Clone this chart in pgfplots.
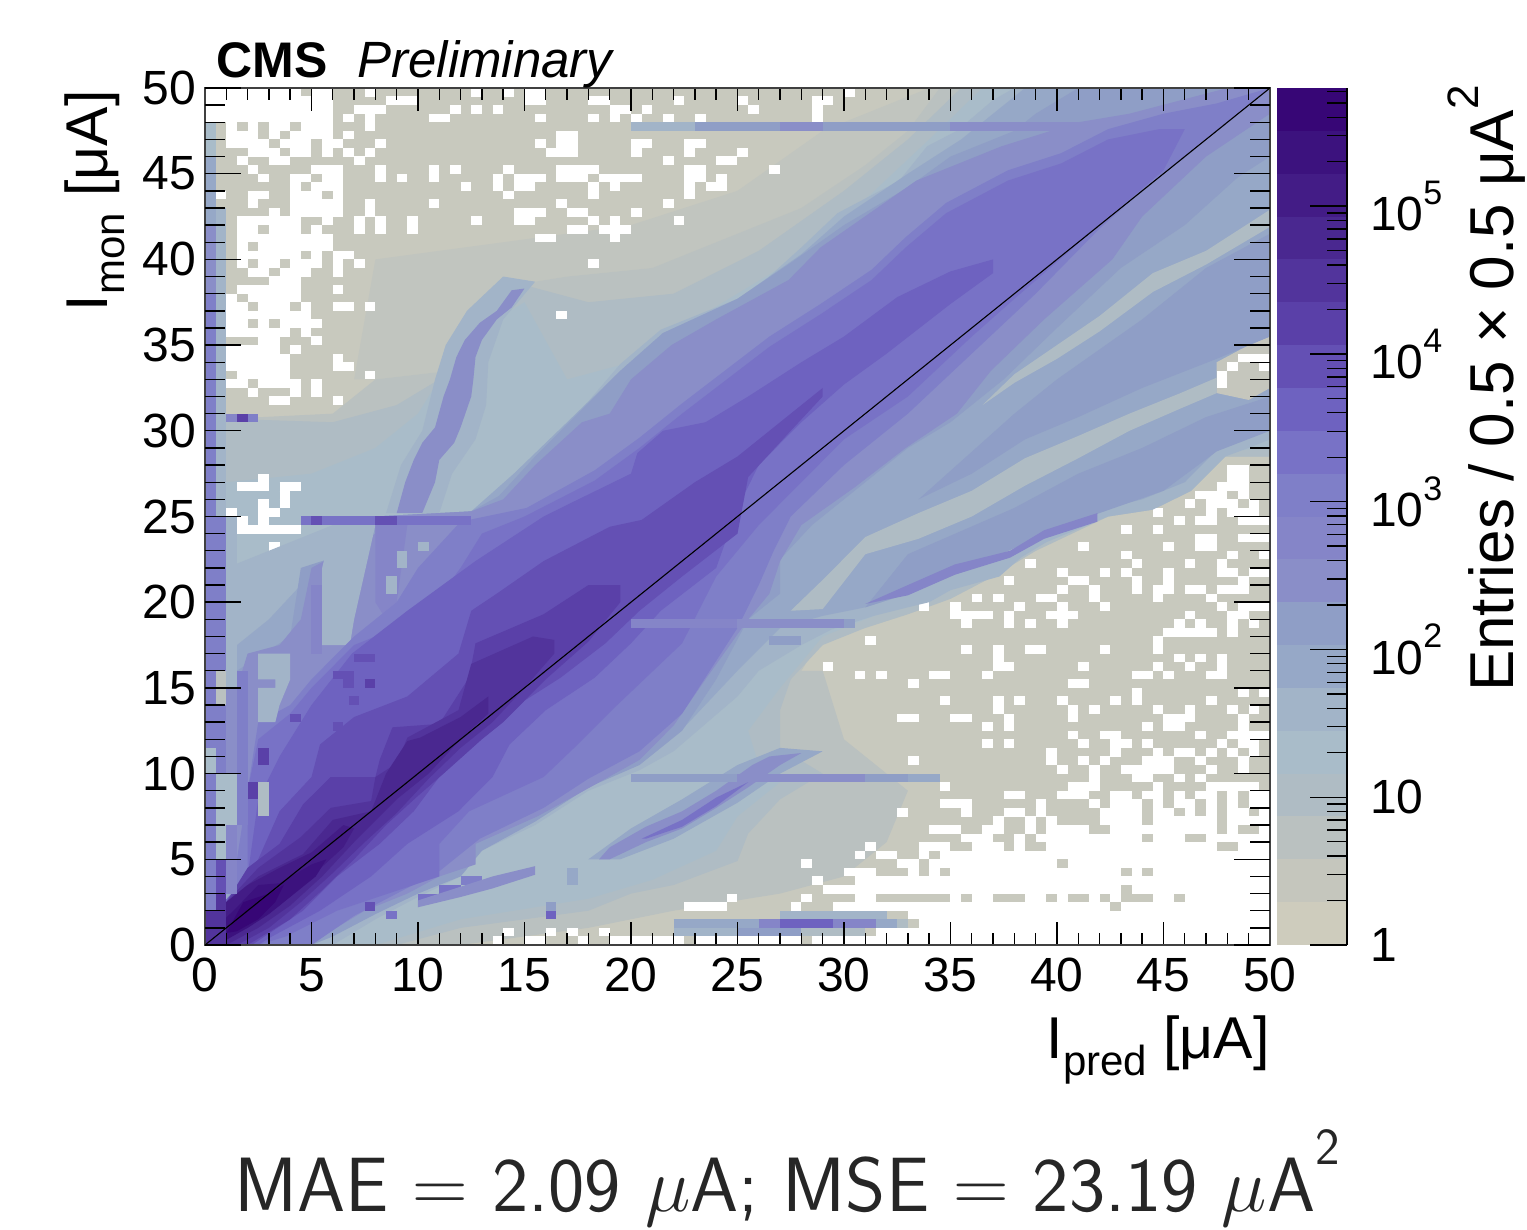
\RequirePackage{fix-cm}
\documentclass[border=0pt]{standalone}
\usepackage{fontspec}
\setmainfont{Liberation Sans}
\usepackage{pgfplots}
\pgfplotsset{compat=1.18}
\definecolor{Cb}{HTML}{C8C9BE}\definecolor{Cg}{HTML}{C1C5BF}
\definecolor{C0}{HTML}{CECCBD}\definecolor{C1}{HTML}{C5C6BD}\definecolor{C2}{HTML}{BAC1C0}\definecolor{C3}{HTML}{AFBCC4}
\definecolor{C4}{HTML}{A9BCC9}\definecolor{C5}{HTML}{A2B4C8}\definecolor{C6}{HTML}{96A8C7}\definecolor{C7}{HTML}{8F9EC6}
\definecolor{C8}{HTML}{8A8EC8}\definecolor{C9}{HTML}{8585C8}\definecolor{C10}{HTML}{7F7FC8}\definecolor{C11}{HTML}{7872C6}
\definecolor{C12}{HTML}{6E62C0}\definecolor{C13}{HTML}{6450B4}\definecolor{C14}{HTML}{5A40A8}\definecolor{C15}{HTML}{52349C}
\definecolor{C16}{HTML}{4A2890}\definecolor{C17}{HTML}{431C86}\definecolor{C18}{HTML}{3C127E}\definecolor{C19}{HTML}{370676}
\pgfplotsset{
 poly/.style={fill=#1,draw=none,forget plot},
 hr/.style={quiver={u=\thisrowno{2},v=0},draw=#1,line width=4.35pt,line cap=butt,no markers,forget plot},
 vr/.style={quiver={u=0,v=\thisrowno{2}},draw=#1,line width=5.4pt,line cap=butt,no markers,forget plot},
}
\newcommand{\tk}{\fontsize{24}{24}\selectfont}
\newcommand{\lb}{\fontsize{31}{31}\selectfont}
\newcommand{\lc}{\fontsize{29.5}{30}\selectfont}
\newcommand{\sub}[1]{\raisebox{-0.28em}{\fontsize{21}{21}\selectfont #1}}
\newcommand{\ee}[1]{\mbox{10\raisebox{0.55em}{\fontsize{17}{17}\selectfont #1}}}
\begin{document}
\begin{tikzpicture}
\path[use as bounding box] (-102.5pt,-142.5pt) rectangle ++(763.5pt,615pt);
\begin{axis}[scale only axis,width=532.5pt,height=428.5pt,xmin=0,xmax=50,ymin=0,ymax=50,
 axis on top,tick align=inside,axis line style={draw=black!75,line width=0.8pt},
 tick style={black,line width=0.7pt},major tick length=11.5pt,minor tick length=6pt,
 xtick={0,5,...,50},xticklabels={0,5,10,15,20,25,30,35,40,45,50},minor x tick num=4,
 ytick=\empty,xtick pos=both,
 xticklabel pos=bottom,x tick label style={font=\tk,yshift=-3pt,inner xsep=0pt}]
% background
\addplot[poly=Cb] coordinates {(0,0)(50,0)(50,50)(0,50)} -- cycle;
\addplot[poly=Cg] coordinates {(7,33)(8,40)(14,41)(20,42)(25,44)(29,47.5)(34,50)(35,50)(33,47.5)(31,45.5)(28,43)(24,41)(21,39.5)(17,39)(14.5,38.5)(13,36)(11.5,33.5)(8,33)} -- cycle;
\addplot[poly=C2] coordinates {(26,16)(29,16)(30,12)(33,9)(32,6)(30,4)(27,3)(22,2)(18,1)(12,0)(9,0)(20,5)} -- cycle;
% graded low-count region
\addplot[poly=C2] coordinates {(1,30.7)(6,31)(8,33)(11.5,33.5)(13,36)(14.5,38.5)(17,39)(21,39.5)(24,41)(28,43)(31,45.5)(33,47.5)(34.5,50)(50,50)(50,28.5)(47.9,28.5)(46.3,26.5)(44.5,25.4)(42.4,25)(39,23)(37,21.5)(35,20.2)(33,19.3)(31,18.5)(29,18)(28,16)(27.5,15.5)(27,13.7)(28.5,11.7)(31,10.2)(28,8.8)(26,6.9)(25.5,4.9)(22,3.5)(20,3)(18,2)(12,1)(9,0)(0,0)(0,30.7)} -- cycle;
\addplot[poly=C3] coordinates {(1,30.7)(6,30.5)(9,31.5)(11,33)(13,36)(15,38.5)(18,37.5)(22,38)(26,40.5)(30,44)(33,47)(35.5,50)(50,50)(50,28.5)(47.9,28.5)(46.3,26.5)(44.5,25.4)(42.4,25)(39,23)(37,21.5)(35,20.2)(33,19.3)(31,18.5)(29,17.5)(27.5,15.5)(27,13.7)(27,11.5)(29,10)(27,8.5)(25.5,6.5)(25,4.9)(22,3.5)(20,3)(18,2)(12,1)(9,0)(0,0)(0,30.7)} -- cycle;
\addplot[poly=C4] coordinates {(1,27)(5,27.5)(8,29)(10,31)(11,33)(13,36)(15,37.5)(17,33)(20,34)(23,36.5)(27,39.5)(31,43.5)(34,47)(36.5,50)(50,50)(50,29)(48,28.8)(46.3,27)(44.5,26)(42,25.2)(39,23.5)(37,22)(35,20.8)(33,20)(31,19)(29,18)(27,15)(25.5,12.5)(26,10.5)(27,9.5)(25,7.5)(24,5.5)(21,3.8)(18,2.7)(12,1.5)(8,0)(0,0)(0,27)} -- cycle;
% empty bins, as runs: x y length
\addplot[hr=white] table {
0 49.75 4.5
5 49.75 1
7.5 49.75 .5
12.5 49.75 .5
14 49.75 .5
15 49.75 1
30 49.75 .5
0 49.25 6
8.5 49.25 1.5
15 49.25 1
18 49.25 1
22 49.25 .5
25 49.25 .5
28.5 49.25 1
0 48.75 6
7 48.75 1.5
11.5 48.75 .5
12.5 48.75 .5
13.5 48.75 .5
19 48.75 1
20.5 48.75 .5
25.5 48.75 .5
28.5 48.75 .5
0 48.25 6
6.5 48.25 .5
7.5 48.25 .5
10.5 48.25 1
15.5 48.25 .5
18 48.25 .5
19 48.25 .5
20 48.25 .5
21.5 48.25 .5
23 48.25 .5
28.5 48.25 .5
1 47.75 .5
2 47.75 .5
3 47.75 1
4.5 47.75 1.5
7.5 47.75 .5
1 47.25 1.5
3 47.25 .5
4 47.25 2
6.5 47.25 .5
16.5 47.25 1
1 46.75 2
3.5 46.75 1.5
5.5 46.75 1
8 46.75 .5
15.5 46.75 .5
16.5 46.75 1
20 46.75 1
22.5 46.75 1
2 46.25 1.5
4 46.25 1
5.5 46.25 .5
6.5 46.25 .5
7.5 46.25 .5
16 46.25 1.5
20 46.25 .5
22.5 46.25 .5
25 46.25 .5
1.5 45.75 .5
3 45.75 1
7 45.75 .5
21.5 45.75 .5
24 45.75 1
2 45.25 .5
5 45.25 1.5
8 45.25 .5
10.5 45.25 .5
11.5 45.25 .5
14 45.25 .5
16.5 45.25 2
22.5 45.25 1
26.5 45.25 .5
2.5 44.75 .5
4 44.75 1
5.5 44.75 1
8 44.75 .5
9 44.75 .5
10.5 44.75 .5
13.5 44.75 .5
14.5 44.75 1.5
16.5 44.75 1.5
18.5 44.75 2
22.5 44.75 1
24 44.75 .5
4 44.25 .5
5 44.25 1.5
12 44.25 .5
13.5 44.25 .5
14.5 44.25 1
18 44.25 .5
19 44.25 .5
22.5 44.25 .5
23.5 44.25 1
.5 43.75 .5
2 43.75 1
4 43.75 1.5
6 43.75 .5
14 43.75 .5
18 43.75 .5
22.5 43.75 .5
2 43.25 .5
4 43.25 2.5
7.5 43.25 .5
10.5 43.25 .5
16.5 43.25 .5
21.5 43.25 .5
3 42.75 .5
4 42.75 2.5
7.5 42.75 .5
14.5 42.75 1.5
17 42.75 1
20 42.75 .5
1.5 42.25 3
5.5 42.25 .5
7 42.25 .5
8 42.25 .5
9.5 42.25 .5
12.5 42.25 .5
14.5 42.25 1
18 42.25 .5
19 42.25 .5
22 42.25 .5
1.5 41.75 1
3 41.75 1.5
5 41.75 .5
7 41.75 .5
8 41.75 .5
9.5 41.75 .5
17 41.75 1
18.5 41.75 1.5
1.5 41.25 4.5
15.5 41.25 1
19 41.25 .5
1.5 40.75 .5
2.5 40.75 3.5
1.5 40.25 3
5 40.25 .5
6 40.25 1
.5 39.75 .5
1.5 39.75 .5
2.5 39.75 1
4 39.75 1.5
6 39.75 .5
7 39.75 .5
18 39.75 .5
2 39.25 1
3.5 39.25 1.5
6 39.25 .5
3 38.75 1.5
.5 38.25 .5
1.5 38.25 3
6 38.25 .5
.5 37.75 1
2 37.75 2.5
.5 37.25 1.5
2.5 37.25 1.5
4.5 37.25 .5
6 37.25 1
7.5 37.25 .5
.5 36.75 4.5
16.5 36.75 .5
1 36.25 1
2.5 36.25 .5
3.5 36.25 2
1 35.75 3
4.5 35.75 .5
2.5 35.25 1
5 35.25 .5
1 34.75 2.5
4 34.75 .5
1 34.25 3
6 34.25 .5
1 33.75 3
6 33.75 1
1.5 33.25 2.5
7.5 33.25 .5
1 32.75 1
2.5 32.75 2
5 32.75 .5
2 32.25 .5
4 32.25 .5
5 32.25 .5
.5 31.75 .5
3 31.75 1
6 31.75 .5
2.5 27.25 .5
1.5 26.75 1.5
3.5 26.75 1
3.5 26.25 .5
2.5 25.75 .5
3.5 25.75 .5
1 25.25 .5
2.5 25.25 1
1 24.75 1
2.5 24.75 .5
1.5 24.25 3
3 23.25 .5
38 27.75 .5
38 27.25 .5
48 27.75 1
48 27.25 1
47.5 26.75 1.5
46.5 26.25 1.5
48.5 26.25 .5
46 25.75 .5
47 25.75 1.5
49 25.75 .5
44.5 25.25 .5
47 25.25 .5
48 25.25 1.5
45.5 24.75 .5
46.5 24.75 1
48.5 24.75 1.5
43 24.25 .5
44.5 24.25 .5
46.5 23.75 1
48.5 23.75 1.5
41 23.25 .5
45 23.25 .5
46.5 23.25 1
43 22.75 .5
48 22.75 .5
49.5 22.75 .5
38.5 22.25 .5
43.5 22.25 .5
46 22.25 .5
47.5 22.25 .5
40 21.75 .5
42 21.75 .5
43 21.75 .5
45 21.75 .5
47.5 21.75 1
49 21.75 1
37.5 21.25 .5
40.5 21.25 1
43.5 21.25 .5
45 21.25 .5
48.5 21.25 .5
40 20.75 .5
41.5 20.75 .5
43.5 20.75 .5
44.5 20.75 1
46 20.75 1
47.5 20.75 1.5
36 20.25 .5
37 20.25 .5
39 20.25 1
41.5 20.25 .5
44.5 20.25 .5
47 20.25 .5
33.5 19.75 .5
35 19.75 .5
38 19.75 .5
40 19.75 .5
42 19.75 .5
47.5 19.75 .5
48.5 19.75 1.5
35 19.25 2
37.5 19.25 .5
39.5 19.25 1.5
46 19.25 .5
48 19.25 1
35.5 18.75 .5
37.5 18.75 .5
38.5 18.75 .5
40 18.75 .5
45.5 18.75 .5
46.5 18.75 .5
48 18.75 .5
49 18.75 .5
45 18.25 2.5
48 18.25 .5
31 17.75 .5
44.5 17.75 .5
35.5 17.25 .5
37 17.25 .5
38.5 17.25 1
42 17.25 .5
44.5 17.25 .5
37 16.75 .5
45.5 16.75 .5
46.5 16.75 .5
47.5 16.75 .5
29 16.25 .5
37 16.25 1
41 16.25 .5
44.5 16.25 .5
46 16.25 .5
47.5 16.25 .5
30.5 15.75 .5
31.5 15.75 .5
34 15.75 1
36.5 15.75 .5
43.5 15.75 1
45 15.75 .5
47 15.75 1
33 15.25 .5
40.5 15.25 1
43.5 14.75 .5
48.5 14.75 .5
49.5 14.75 .5
34.5 14.25 .5
37 14.25 .5
38 14.25 .5
40 14.25 .5
42.5 14.25 .5
43.5 14.25 .5
47 14.25 .5
37 13.75 .5
40.5 13.75 .5
41.5 13.75 .5
44.5 13.75 .5
46 13.75 .5
48 13.75 .5
49 13.75 .5
32.5 13.25 1
35 13.25 1
37.5 13.25 .5
40.5 13.25 .5
45 13.25 1.5
48.5 13.25 .5
36.5 12.75 .5
37.5 12.75 .5
44 12.75 .5
45 12.75 1
48.5 12.75 .5
40.5 12.25 .5
42 12.25 1
46.5 12.25 .5
48 12.25 2
36.5 11.75 .5
37.5 11.75 .5
41 11.75 .5
42.5 11.75 1
44 11.75 .5
47.5 11.75 .5
48.5 11.75 1
39.5 11.25 .5
42.5 11.25 .5
44.5 11.25 .5
45.5 11.25 1
47 11.25 .5
48 11.25 .5
49 11.25 .5
33 10.75 .5
39.5 10.75 .5
41 10.75 .5
42 10.75 .5
44 10.75 1.5
46.5 10.75 .5
48.5 10.75 .5
40 10.25 .5
41.5 10.25 .5
43 10.25 2.5
47 10.25 .5
48.5 10.25 .5
41.5 9.75 .5
43.5 9.75 1
45.5 9.75 .5
46.5 9.75 .5
34.5 9.25 .5
40.5 9.25 1.5
44.5 9.25 .5
47 9.25 2.5
37.5 8.75 1
40 8.75 1.5
42.5 8.75 1
44 8.75 1
45.5 8.75 .5
46.5 8.75 1
48 8.75 .5
49 8.75 1
34.5 8.25 1.5
39 8.25 .5
41.5 8.25 .5
42.5 8.25 1.5
44.5 8.25 .5
45.5 8.25 1
47 8.25 .5
48 8.25 .5
49 8.25 1
32.5 7.75 .5
35.5 7.75 .5
37.5 7.75 1
39 7.75 .5
42 7.75 2
44.5 7.75 1
46 7.75 .5
47 7.75 .5
48 7.75 1
49.5 7.75 .5
37 7.25 .5
38.5 7.25 .5
39.5 7.25 .5
42 7.25 2
44.5 7.25 3
48 7.25 2
34 6.75 1.5
36.5 6.75 1
38.5 6.75 .5
39.5 6.75 2
42.5 6.75 5
48 6.75 .5
49.5 6.75 .5
35.5 6.25 1.5
38 6.25 .5
39 6.25 5
44.5 6.25 1.5
47 6.25 3
31 5.75 .5
33.5 5.75 1.5
36 5.75 1.5
38 5.75 .5
39.5 5.75 8
48.5 5.75 1.5
30.5 5.25 .5
31.5 5.25 1
33.5 5.25 .5
34.5 5.25 15.5
28 4.75 .5
32.5 4.75 1
34 4.75 6
40.5 4.75 9.5
30 4.25 1.5
33 4.25 .5
34 4.25 .5
35 4.25 8
43.5 4.25 .5
44.5 4.25 5.5
28.5 3.75 .5
30.5 3.75 19.5
29 3.25 14
43.5 3.25 6.5
24.5 2.75 .5
28 2.75 .5
30.5 2.75 1
35 2.75 .5
36 2.75 1
38.5 2.75 1
40 2.75 .5
41.5 2.75 .5
42.5 2.75 .5
44.5 2.75 1
46 2.75 4
22.5 2.25 2
27.5 2.25 .5
29.5 2.25 13
43 2.25 7
33 1.75 17
33.5 1.25 16.5
14 .75 .5
16 .75 .5
17 .75 .5
18.5 .75 .5
31.5 .75 18.5
13.5 .25 .5
15 .25 1
17.5 .25 .5
19 .25 3.5
23 .25 5
28.5 .25 21.5
};
% C5, arc and lower-left streak halos
\addplot[poly=C5] coordinates {(1,22)(4,23.5)(6,24.5)(12.5,25.3)(15.1,27)(17.5,31)(19.5,33.9)(21.4,35.9)(25.6,38)(28,40.7)(29.7,42.7)(32.6,44.6)(33.9,46.6)(35.3,47.5)(37,49.3)(38,50)(50,50)(50,29.5)(49,29)(47.9,28.5)(46.3,26.5)(44.5,25.4)(42.4,25)(39.5,23.5)(38.3,22.6)(37.3,21.5)(35,20.7)(34,20)(33,19.7)(31.4,19.2)(29.4,18.4)(28,17.5)(26,16)(25,14.5)(22,11.3)(20.4,10.2)(18,9)(15.5,7)(13,5.5)(12,4)(10,2.8)(8,1.5)(6,0)(0,0)(0,22)} -- cycle;
\addplot[poly=C5] coordinates {(8.5,25.2)(9.2,28)(10.2,30)(10.8,33)(11.3,35)(12.3,37)(14,39)(15.5,38.7)(14,36.5)(13.3,34)(13.2,31.5)(12.7,29.5)(11.6,27.5)(11,25.2)} -- cycle;
\addplot[poly=C8] coordinates {(9,25.2)(9.4,27)(9.8,28.3)(10.2,29.3)(10.8,30.2)(11.2,32)(11.5,33)(11.8,34.3)(12.2,35.3)(12.9,36.3)(13.7,37)(14.4,38.2)(15,38.3)(14.4,37.2)(13.7,36.5)(13,35.3)(12.7,34.3)(12.6,33)(12.5,32)(12,30.2)(11.7,29.3)(11,28.3)(10.8,27)(10.2,25.2)} -- cycle;
\addplot[poly=C6] coordinates {(1,17)(3,19)(4.5,21)(7,23)(8,25)(12.5,25.3)(14.5,27.5)(17,30.5)(19.5,33.5)(21.5,35.7)(25,37.7)(28,40.3)(30,42.5)(33,45)(35.5,47)(37,48.5)(38.5,50)(50,50)(50,30.5)(48,29.5)(46,27)(44,26)(42,25.4)(39,24)(37,22.5)(35,21.5)(33,20.5)(31,19.7)(29,19.2)(27,18.5)(25,16)(22.5,12.7)(20.5,10.8)(18,9.8)(15.5,8)(13,6)(12,4.5)(10,3.2)(8,2)(6,0.7)(5,0)(1,0)} -- cycle;
% light streaks right of the diagonal
\addplot[poly=C3] coordinates {(27.5,19.5)(29,21.3)(31,23.8)(33.5,25.2)(36,26.5)(38.5,28.4)(41,29.7)(43.4,31)(45.8,32.2)(47.5,33.1)(47.5,32.2)(45.8,31.3)(43.4,30)(41,28.4)(38.5,26.8)(36,25)(33.5,23.7)(31,22.8)(29,19.6)} -- cycle;
\addplot[poly=C3] coordinates {(36.5,31.5)(38,33.3)(40,35)(42,36.7)(44.5,39.2)(47,40.5)(50,42.9)(50,41.9)(47,39.7)(44.5,38.1)(42,35.8)(40,34.2)(38,32.8)} -- cycle;
\addplot[poly=C1] coordinates {(47.5,32.2)(47.5,34)(49,35)(50,35.5)(50,32.5)(49,31.8)} -- cycle;
\addplot[hr=white] table {
48.5 34.25 1.5
48 33.75 .5
49.5 33.75 .5
47.5 33.25 .5
47.5 32.75 .5
};
\addplot[poly=C7] coordinates {(33.5,26)(38,31)(40,33)(44,36.5)(47,39.5)(50,41.5)(50,35.5)(47.5,34.2)(44,32.5)(41,30.8)(38.5,29.5)(36,27.5)} -- cycle;
\addplot[poly=C7] coordinates {(33,22.8)(38,25.5)(41,27.5)(44,29)(47,30.8)(50,32)(50,30)(47.5,28.8)(45,26.5)(42,25.2)(39.5,24)(37,22.6)(35,21.7)(33,20.5)(31,19.7)} -- cycle;
\addplot[poly=C9] coordinates {(31,19.9)(33,21)(35.2,22.2)(37.8,23)(39.4,24.2)(41.9,25.2)(41.9,24.7)(39.4,23.7)(37.8,22.6)(35.2,21.6)(33,20.4)} -- cycle;
% main band
\addplot[poly=C7] coordinates {(1.5,16)(4,18)(4.5,22)(7,23)(8,25)(12.5,25.3)(13.8,26.2)(15.5,28.5)(17.5,31)(19.5,33.5)(21.5,35.7)(25,37.7)(27.5,39.8)(30,42)(33,44.2)(35,46)(38,47.5)(39,48.5)(41,50)(50,50)(50,46)(48.5,44.8)(46,42)(43,39.5)(40,36)(37.5,33)(35,30.5)(33,29)(30.5,26.5)(28.5,24.5)(27,22.5)(27,20.5)(25.5,19)(24,15.5)(22.4,12.5)(20.4,10.5)(18,9.2)(15.5,7.2)(13,5.5)(12,4)(10,3)(8,1.8)(6,0.5)(5,0)(1.5,0)} -- cycle;
\addplot[poly=C8] coordinates {(1.5,5)(1.5,15)(2,17)(3.5,17.5)(4.5,19)(5,22)(8,24)(8,25)(12.5,25.3)(14,26)(15.5,28)(17.7,30.5)(19,31)(20,33)(21.9,35)(24,36.5)(27.4,38.8)(28.9,40.7)(33.4,44.6)(37.4,46.6)(41,48)(43.4,48.5)(48,50)(50,50)(50,48.5)(47,46)(44,42.5)(42.6,40)(39.4,36.5)(36.9,33.5)(35.3,31)(32.9,29)(30.5,26.7)(28,24.5)(27,22.4)(26.5,20.5)(25.5,19)(23.5,15.5)(22,12.8)(20.4,10.8)(17.5,8.8)(15.6,7.5)(12.7,5.9)(12.7,4.7)(11,4)(9.5,3)(7.5,2)(5.9,0.8)(4.5,0)(1.5,0)} -- cycle;
\addplot[poly=C5] coordinates {(5.5,17.5)(5.5,22)(6,24.5)(8,24.5)(7,19)(6.8,17.5)} -- cycle;
\addplot[poly=C9] coordinates {(8,24.5)(8,20)(8.5,19)(9,20)(9.5,24.5)} -- cycle;
\addplot[poly=C10] coordinates {(1.5,5)(2,9)(2.5,13)(4,14)(5,15.5)(7,18)(9,20)(10,22)(12,24.7)(15.1,25.5)(18.3,27.7)(20.4,29.6)(22.4,31.6)(26.5,35.5)(28.9,37.4)(31.3,39.4)(32.9,41.3)(34.8,43.3)(37.7,45.2)(40.2,46.2)(42.4,47.6)(45,48.5)(47.5,49.1)(50,50)(47,47)(44,44)(42,41.8)(39,38)(36,34.5)(33,31)(30,28)(27.5,25)(26.7,23)(26,21)(25,18.5)(22.4,13.5)(20.4,11.3)(18,9.7)(15.9,8)(12.9,6.2)(11,4.3)(9,3)(7,1.7)(5,0)(1.5,0)} -- cycle;
\addplot[poly=C11] coordinates {(2,5)(2,9)(2.5,12)(4,13.5)(5,15)(7,17.5)(8,18)(10.5,19.5)(12,22)(13,24)(15,25)(18.3,27.1)(20.4,29)(22.4,31)(26.5,34.9)(28.9,36.8)(31.3,38.8)(32.9,40.7)(34.8,42.7)(37.7,44.6)(40.2,45.6)(42.4,47)(44.8,47.6)(46,47.6)(45,45.2)(42,42)(38,37.7)(36,35.5)(33,32)(30,29.5)(26,24.5)(24,21.5)(22.4,17.6)(19.1,13.7)(17.5,11.7)(15.9,9.8)(12.4,7.8)(11,5.9)(11,4)(8.6,3)(6.2,2)(3.8,0.5)(2.5,0)(2,0)} -- cycle;
\addplot[poly=C12] coordinates {(2,4)(2.5,8.5)(3.5,11)(5,14)(6.9,17)(9.5,19.5)(12.7,22.4)(15.9,25)(17.2,25.8)(20,27.5)(20.3,28.7)(21.5,30)(23.5,30.5)(25.5,32)(28,34)(30,35.5)(32.5,37.8)(35,39.3)(37,40)(37,39.2)(35,37.4)(32,34.5)(30,32.7)(28,30.5)(26,28)(25,25.5)(24,22)(21.4,19.5)(20,17.6)(18.3,15.6)(16,13.7)(14.3,11.7)(13.5,9.8)(11.9,7.8)(9.5,5.9)(7.8,4)(5.4,2)(3,0.4)(2.5,0)(0,0)(0.5,2)} -- cycle;
\addplot[poly=C13] coordinates {(3.5,7.8)(5,9.8)(5.4,11.7)(7,13.3)(9.5,14.5)(11.9,17)(12.5,19.5)(13.7,20.5)(15.9,22.4)(19,24.4)(20.5,24.8)(23,27)(25,28.5)(27,30.5)(29,32.5)(29,32)(27.5,30)(25.5,27.3)(25,24)(22.4,21.5)(20.4,19.5)(18.8,17.6)(16.7,15.6)(14.3,13.7)(12.7,11.7)(11,9.8)(9.8,7.8)(8.2,5.9)(6.2,4)(4.6,2)(2.2,0)(0,0)(1,2)(2.5,5)} -- cycle;
\addplot[poly=C14] coordinates {(3.5,5.9)(4.6,8.2)(5.9,9.8)(8,9.8)(8.2,10.8)(8.8,12.7)(11,12.9)(12.4,15.6)(12.7,17.6)(15.9,19.3)(18,21)(19.5,21)(19.5,20)(18,17.7)(16,15.5)(14,13)(13,12)(11.2,10)(10,8.7)(8.5,7)(7,5)(5.5,3.2)(4,1.5)(2,0)(0,0)(1,2.5)(2,4.5)} -- cycle;
\addplot[poly=C15] coordinates {(4.5,6.3)(5.9,8)(7.8,8.4)(8,9.8)(9,10.6)(9.5,12.1)(11.9,13.7)(12.5,16.4)(15.4,18)(16.4,17.8)(16.4,17)(15,15)(13.5,13)(12,11.5)(10.5,9.7)(9,7.7)(7.5,6)(6,4.2)(4.5,2.5)(3,1)(1.5,0)(0,0)(1,2.5)(2.5,4.5)} -- cycle;
\addplot[poly=C16] coordinates {(4.6,5.3)(6,7.3)(7.8,7.8)(8.5,10)(9.5,11.9)(10.1,12.1)(12,13.3)(13.3,14.5)(13.3,13.5)(12,12)(10.5,10)(9,8.5)(7,6)(5.5,4)(4,2.3)(2.5,1)(1,0)(0,0)(1,2.5)(2.5,4)} -- cycle;
\addplot[poly=C17] coordinates {(2,3.5)(3.5,4.5)(5,5.4)(6.5,7)(7,6.8)(6.5,5.7)(5,4)(3.5,2.3)(2,1)(0.7,0.3)(0.5,2)} -- cycle;
\addplot[poly=C18] coordinates {(1.5,2.2)(2.5,3.5)(3.5,3.6)(5,4.7)(5.7,5)(5.2,4)(4,2.8)(3,1.8)(2,1)(1,0.3)(0.5,1)} -- cycle;
\addplot[poly=C19] coordinates {(1,0.7)(1.8,2.5)(3,3)(3.7,3.5)(3.3,2.5)(2.5,1.5)(1.5,0.8)} -- cycle;
% single bins in the band
\addplot[hr=C13] table {
7 16.75 1
6 15.75 1
6.5 15.25 .5
4 13.25 .5
6 12.75 .5
6.75 14.25 .5
7.5 2.25 .5
};
\addplot[hr=C14] table {
7.5 15.25 .5
};
\addplot[hr=C11] table {
8.5 1.75 .5
10 2.75 1
11 3.25 1
};
\addplot[hr=C10] table {
12 3.75 1
};
\addplot[hr=C5] table {
8.5 21.25 .5
8.5 20.75 .5
9 22.75 .5
9 22.25 .5
10 23.25 .5
};
\addplot[vr=C9] table {
5.25 17 4
};
% lens and lower streaks
\addplot[poly=C6] coordinates {(18,5)(20,6.8)(22.4,8.5)(25,10.5)(27,11.5)(29,11.3)(27,10)(25,8.3)(22,6.2)(19.5,5)} -- cycle;
\addplot[poly=C8] coordinates {(18.5,5)(19,5.7)(20.7,6.9)(22.4,7.8)(24,9)(25.7,10.5)(26.5,11)(28,11.2)(27,10.5)(25.5,9.2)(24,8)(22.4,6.8)(20.7,6)(19,5)} -- cycle;
\addplot[poly=C11] coordinates {(20.5,6.2)(22.4,7.3)(24,8.6)(25.5,9.5)(24,8.1)(22.4,6.9)(20.7,6.2)} -- cycle;
\addplot[poly=C8] coordinates {(10,2.6)(12,3.4)(13.5,4)(15.5,4.6)(15.5,4.1)(13.5,3.3)(12,2.8)(10,2.2)} -- cycle;
\addplot[hr=C8] table {
25 9.75 6
};
\addplot[hr=C7] table {
20 9.75 5
31 9.75 2
};
\addplot[hr=C6] table {
33 9.75 1.5
};
\addplot[hr=C9] table {
20 18.75 5
};
\addplot[hr=C8] table {
25 18.75 5
};
\addplot[hr=C7] table {
30 18.75 .5
26.5 17.75 1.5
};
\addplot[hr=C11] table {
4.5 24.75 8
};
\addplot[hr=C13] table {
5 24.75 .5
8 24.75 1
};
\addplot[hr=C5] table {
20 47.75 3
};
\addplot[hr=C7] table {
23 47.75 12
};
\addplot[hr=C8] table {
35 47.75 6
27 47.75 2
};
% bottom streak
\addplot[hr=C6] table {
22 1.25 4
31.5 1.25 1
};
\addplot[hr=C9] table {
26 1.25 1
29.5 1.25 2
};
\addplot[hr=C12] table {
27 1.25 2.5
16 1.75 .5
};
\addplot[hr=C3] table {
32.5 1.25 .5
28 .75 3
};
\addplot[hr=C5] table {
22 .75 3
27 1.75 5
};
\addplot[hr=C7] table {
25 .75 3
16 2.25 .5
};
\addplot[hr=C6] table {
17 3.75 .5
17 4.25 .5
};
% spot at 30.75
\addplot[hr=C9] table {
1 30.75 .5
};
\addplot[hr=C14] table {
1.5 30.75 .5
};
\addplot[hr=C10] table {
2 30.75 .5
};
% left columns: x y length
\addplot[poly=C5] coordinates {(2.5,13)(2.5,15)(3.3,15)(3.3,15.5)(2.5,15.5)(2.5,17)(4,17)(4,15.5)(3.5,14)(3.3,13)} -- cycle;
\addplot[vr=C10] table {
.25 2 36
};
\addplot[vr=C8] table {
.25 38 4
};
\addplot[vr=C6] table {
.25 42 4
};
\addplot[vr=C4] table {
.25 46 2
.25 10 1.5
};
\addplot[vr=C15] table {
.25 0 2
.75 0 3
};
\addplot[vr=C5] table {
.75 25 6
1.25 15 10
.75 31 12
};
\addplot[vr=C10] table {
.75 16 9
.75 10 4
1.75 7 9
};
\addplot[vr=C2] table {
.75 14 2
};
\addplot[vr=C4] table {
.75 5 5
1.25 7 3
};
\addplot[vr=C8] table {
1.25 11 4
1.25 10 1
};
\addplot[vr=C13] table {
.75 3 2
};
\addplot[vr=C9] table {
1.25 3 4
};
\addplot[vr=C14] table {
2.75 10.5 1
2.25 8.5 1
};
\addplot[vr=C3] table {
2.75 7.5 2
};
% diagonal
\addplot[black,line width=0.55pt,forget plot] coordinates {(0,0)(50,50)};
\end{axis}
\begin{axis}[scale only axis,width=532.5pt,height=428.5pt,xmin=0,xmax=50,ymin=0,ymax=50,
 tick align=inside,axis line style={draw=none},
 tick style={black,line width=0.7pt},major tick length=18pt,minor tick length=10pt,
 xtick=\empty,ytick={0,5,...,50},yticklabels={0,5,10,15,20,25,30,35,40,45,50},minor y tick num=4,
 ytick pos=both,yticklabel pos=left,y tick label style={font=\tk,xshift=-1pt}]
\end{axis}
% colour bar
\begin{axis}[at={(536pt,0pt)},scale only axis,width=35pt,height=428.5pt,xmin=0,xmax=1,ymin=1,ymax=631000,ymode=log,
 axis x line=none,axis y line*=right,tick align=inside,axis on top,
 axis line style={black,line width=0.7pt},tick style={black,line width=0.7pt},
 major tick length=18.5pt,minor tick length=10pt,
 ytick={1,10,100,1000,10000,100000},yticklabels={1,10,\ee{2},\ee{3},\ee{4},\ee{5}},
 minor ytick={2,3,4,5,6,7,8,9,20,30,40,50,60,70,80,90,200,300,400,500,600,700,800,900,2000,3000,4000,5000,6000,7000,8000,9000,20000,30000,40000,50000,60000,70000,80000,90000,200000,300000,400000,500000,600000},
 y tick label style={font=\tk,anchor=west,xshift=8pt}]
\addplot[poly=C0] coordinates {(0,1)(1,1)(1,1.95)(0,1.95)} -- cycle;
\addplot[poly=C1] coordinates {(0,1.95)(1,1.95)(1,3.8)(0,3.8)} -- cycle;
\addplot[poly=C2] coordinates {(0,3.8)(1,3.8)(1,7.41)(0,7.41)} -- cycle;
\addplot[poly=C3] coordinates {(0,7.41)(1,7.41)(1,14.45)(0,14.45)} -- cycle;
\addplot[poly=C4] coordinates {(0,14.45)(1,14.45)(1,28.2)(0,28.2)} -- cycle;
\addplot[poly=C5] coordinates {(0,28.2)(1,28.2)(1,54.9)(0,54.9)} -- cycle;
\addplot[poly=C6] coordinates {(0,54.9)(1,54.9)(1,107)(0,107)} -- cycle;
\addplot[poly=C7] coordinates {(0,107)(1,107)(1,209)(0,209)} -- cycle;
\addplot[poly=C8] coordinates {(0,209)(1,209)(1,407)(0,407)} -- cycle;
\addplot[poly=C9] coordinates {(0,407)(1,407)(1,794)(0,794)} -- cycle;
\addplot[poly=C10] coordinates {(0,794)(1,794)(1,1549)(0,1549)} -- cycle;
\addplot[poly=C11] coordinates {(0,1549)(1,1549)(1,3020)(0,3020)} -- cycle;
\addplot[poly=C12] coordinates {(0,3020)(1,3020)(1,5888)(0,5888)} -- cycle;
\addplot[poly=C13] coordinates {(0,5888)(1,5888)(1,11482)(0,11482)} -- cycle;
\addplot[poly=C14] coordinates {(0,11482)(1,11482)(1,22387)(0,22387)} -- cycle;
\addplot[poly=C15] coordinates {(0,22387)(1,22387)(1,43652)(0,43652)} -- cycle;
\addplot[poly=C16] coordinates {(0,43652)(1,43652)(1,85114)(0,85114)} -- cycle;
\addplot[poly=C17] coordinates {(0,85114)(1,85114)(1,165959)(0,165959)} -- cycle;
\addplot[poly=C18] coordinates {(0,165959)(1,165959)(1,323594)(0,323594)} -- cycle;
\addplot[poly=C19] coordinates {(0,323594)(1,323594)(1,631000)(0,631000)} -- cycle;
\end{axis}
% texts
\node[anchor=base west,inner sep=0pt,font=\bfseries\fontsize{25}{25}\selectfont] at (5.5pt,433.5pt) {CMS};
\node[anchor=base west,inner sep=0pt,font=\itshape\fontsize{25.5}{25.5}\selectfont] at (76pt,433.5pt) {Preliminary};
\node[anchor=base east,inner sep=0pt,rotate=90,font=\lc] at (-48.5pt,427.5pt) {I\sub{mon} [μA]};
\node[anchor=base east,inner sep=0pt,font=\lc] at (532.5pt,-57pt) {I\sub{pred} [μA]};
\node[anchor=base east,inner sep=0pt,rotate=90,font=\lb] at (654pt,430pt) {Entries / 0.5 × 0.5 μA\raisebox{0.55em}{\fontsize{22}{22}\selectfont 2}};
\node[anchor=base,inner sep=0pt,font=\sffamily\fontsize{38.5}{41}\selectfont,text=black!85] at (291pt,-133.5pt) {MAE $=$ 2.09 $\mu$A; MSE $=$ 23.19 $\mu$A\raisebox{0.62em}{\fontsize{26}{26}\selectfont 2}};
\end{tikzpicture}
\end{document}
